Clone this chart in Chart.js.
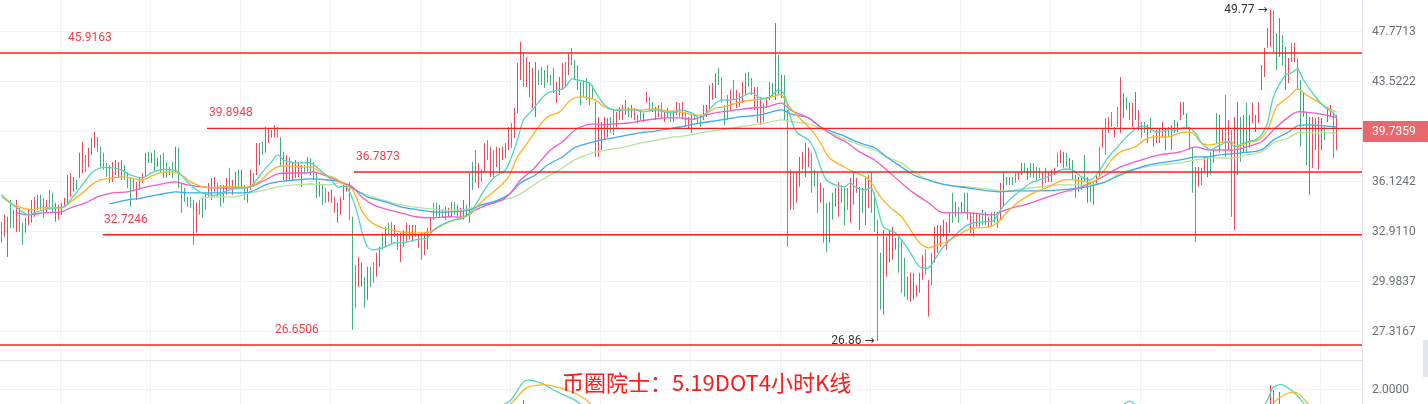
<!DOCTYPE html>
<html>
<head>
<meta charset="utf-8">
<script src="https://cdn.jsdelivr.net/npm/chart.js@4.4.0/dist/chart.umd.min.js"></script>
<style>
  body { margin: 0; background: #fff; }
  #wrap { position: relative; width: 1428px; height: 404px; overflow: hidden; }
  #main { position: absolute; left: 0; top: 0; }
  #sub { position: absolute; left: 0; top: 361px; }
  #title { position: absolute; left: 562px; top: 370px; font: 22px/22px "Noto Sans CJK SC"; color: #ff1a1a; white-space: nowrap; }
  #handle { position: absolute; left: 1423px; top: 340px; width: 5px; height: 37px; background: #e4e6eb; }
</style>
</head>
<body>
<div id="wrap">
  <canvas id="main" width="1428" height="361" style="width:1428px;height:361px"></canvas>
  <canvas id="sub" width="1428" height="43" style="width:1428px;height:43px"></canvas>
  <div id="title">币圈院士：5.19DOT4小时K线</div>
  <div id="handle"></div>
</div>
<script>
// 4h candles, one per index; r = up (red), g = down (green)
const candleHigh = [
  33.52,33.96,33.84,34.92,34.28,34.92,34.41,33.46,33.77,34.28,
  34.92,35.12,35.25,35.25,35.05,34.92,35.58,35.38,34.73,34.60,
  34.73,35.05,36.58,36.72,36.45,36.24,38.12,38.91,37.97,38.48,
  39.20,39.63,39.27,38.55,38.12,37.41,37.27,37.48,37.62,37.48,
  37.62,37.27,36.79,36.38,36.38,36.11,36.38,36.72,38.12,38.19,
  38.12,38.33,37.76,37.97,38.12,37.48,37.13,37.48,38.55,38.48,
  36.04,35.71,35.12,35.12,34.92,34.73,34.92,35.12,35.45,36.04,
  36.38,36.45,36.04,35.91,35.91,36.38,37.07,36.24,36.79,36.93,
  36.93,35.91,35.78,36.93,36.72,38.83,38.83,38.91,40.00,39.93,
  39.78,40.15,40.00,39.27,38.19,37.97,37.83,37.48,37.62,37.48,
  37.27,37.27,37.83,37.76,37.48,36.79,36.11,35.91,35.71,35.45,
  35.58,35.12,34.73,35.12,35.91,35.91,36.11,33.84,30.94,31.40,
  31.06,30.26,30.83,30.83,31.06,31.64,32.00,32.84,33.21,33.46,
  33.52,33.33,32.84,32.84,33.02,33.46,33.33,33.33,33.33,32.72,
  32.84,32.84,33.14,33.84,34.73,34.73,34.60,34.28,34.47,34.41,
  34.79,34.79,34.60,34.41,34.92,34.60,36.72,37.48,38.33,37.41,
  36.93,38.83,39.05,38.55,38.33,38.55,38.48,38.55,38.83,40.00,
  40.30,41.44,45.07,46.87,46.00,45.57,45.15,44.65,45.15,44.48,
  44.73,44.48,44.90,44.07,44.65,43.50,43.91,45.07,45.15,45.91,
  46.34,45.32,44.90,43.50,43.66,43.83,43.50,43.26,41.90,40.76,
  40.38,40.76,40.68,40.76,41.29,41.14,41.52,41.67,42.06,41.52,
  41.67,41.44,40.91,41.29,41.06,42.70,42.30,41.90,41.52,41.67,
  41.82,41.14,41.44,41.14,41.29,41.90,41.82,41.90,41.29,40.76,
  40.91,40.91,40.76,40.91,41.67,41.67,43.26,43.42,44.24,44.65,
  43.91,41.67,42.46,42.86,43.66,42.86,42.62,43.50,44.24,44.32,
  43.83,43.10,43.10,42.30,41.82,42.30,43.50,43.42,48.55,45.74,
  44.07,44.07,41.29,36.93,36.79,36.79,37.83,38.19,38.83,38.48,
  38.12,36.93,36.72,36.04,35.71,34.73,34.79,35.38,35.71,36.11,
  35.91,35.71,35.71,36.38,36.79,36.38,35.78,35.71,36.38,36.58,
  36.79,35.38,33.65,31.64,33.02,32.60,33.02,33.21,32.54,32.60,
  32.42,31.35,30.26,30.49,30.49,29.81,30.49,31.52,31.82,30.09,
  31.64,33.21,33.33,33.33,33.65,33.52,34.09,35.38,34.79,34.47,
  34.79,35.38,35.38,34.09,34.15,34.09,34.09,34.28,34.15,33.84,
  34.09,34.15,34.15,36.04,36.79,36.45,36.45,36.45,36.72,36.79,
  37.41,37.41,37.07,37.41,37.41,37.13,37.07,36.72,37.07,36.79,
  36.93,37.07,38.12,38.33,38.19,38.12,37.76,37.62,36.58,36.45,
  36.38,37.97,36.45,36.11,36.11,36.58,38.55,39.93,40.68,40.76,
  41.14,40.00,41.52,43.91,42.62,42.30,41.82,41.82,42.70,41.29,
  40.38,40.38,40.15,40.68,39.41,39.78,39.93,40.38,39.93,40.00,
  40.15,40.53,40.38,41.90,41.90,41.06,40.00,38.55,37.13,37.13,
  37.07,37.83,37.83,38.19,38.33,41.06,40.91,39.93,42.46,40.53,
  39.78,40.76,41.90,40.76,40.91,41.82,40.91,41.82,40.91,41.90,
  44.90,46.34,48.10,49.77,49.74,47.66,49.00,47.48,46.43,45.49,
  46.78,46.78,45.49,43.66,42.70,41.06,40.76,40.76,40.68,40.76,
  40.68,40.00,41.52,41.67,41.06,40.91
];
const candleLow = [
  32.24,32.60,31.40,33.14,33.14,32.90,32.90,32.12,32.84,33.33,
  33.46,33.84,34.28,34.28,33.77,34.09,34.28,34.09,33.52,33.65,
  33.96,34.47,34.60,35.12,35.45,35.58,36.38,36.72,36.79,37.13,
  37.97,38.48,38.19,37.13,36.93,36.45,36.04,36.11,36.58,36.38,
  36.24,36.24,35.71,34.47,35.58,34.92,35.58,36.04,36.45,37.41,
  37.41,36.79,37.13,36.79,36.38,36.38,36.58,36.38,36.79,35.71,
  34.09,34.79,34.47,34.41,32.12,32.84,33.96,33.77,34.28,35.12,
  34.92,35.45,35.12,34.47,34.73,35.25,35.78,35.25,35.71,35.71,
  35.71,34.92,34.73,35.58,35.78,36.58,37.27,37.97,38.12,38.83,
  39.20,39.27,39.20,37.13,36.24,36.11,36.24,36.24,36.38,36.45,
  35.78,36.72,36.79,36.58,36.24,35.05,35.12,34.60,34.73,34.79,
  34.73,34.09,33.46,33.96,34.92,35.45,33.65,27.42,28.56,29.70,
  29.70,28.56,28.99,29.70,29.92,30.26,30.83,31.82,32.00,32.72,
  32.24,32.60,31.82,31.11,32.00,32.30,32.42,32.30,32.60,31.94,
  31.23,31.52,31.82,32.84,33.65,33.84,33.84,33.77,33.65,33.84,
  33.84,33.96,33.84,33.65,33.65,33.84,33.46,35.58,36.04,35.71,
  36.11,36.79,37.62,36.45,36.45,37.13,36.72,37.62,37.76,38.33,
  38.48,39.20,41.06,43.66,43.10,43.10,42.30,41.44,40.76,43.26,
  43.26,43.02,43.42,43.26,42.62,41.82,42.46,42.86,43.10,44.07,
  44.90,43.66,42.86,41.67,42.30,42.06,41.67,42.22,37.83,37.83,
  38.33,39.05,39.20,39.56,39.41,40.00,40.53,40.53,40.91,40.76,
  40.68,40.53,40.30,40.53,40.38,41.82,41.29,41.14,40.53,40.76,
  40.68,40.38,40.68,40.38,40.38,40.91,40.76,40.68,40.00,39.93,
  39.56,40.53,40.30,40.00,40.53,40.76,41.29,42.06,42.22,43.26,
  41.82,40.15,40.53,41.29,42.06,41.44,41.52,41.82,42.46,43.10,
  42.46,41.29,40.30,40.15,40.38,41.44,42.06,42.30,42.06,42.46,
  42.22,40.53,32.00,34.28,34.28,34.73,35.78,36.93,36.45,37.13,
  35.38,35.78,34.09,34.73,32.24,31.70,32.24,33.65,34.47,33.84,
  34.73,33.33,34.28,33.46,34.60,35.38,33.02,34.09,33.33,34.41,
  34.09,32.90,26.86,28.46,28.19,30.26,31.06,31.23,31.82,30.49,
  29.37,29.15,28.99,28.88,28.99,29.15,29.37,30.09,30.37,28.09,
  29.81,31.06,31.64,32.00,32.60,31.82,32.84,33.46,33.84,33.46,
  34.09,34.09,33.65,32.84,32.60,33.21,33.21,33.33,33.33,33.21,
  33.21,33.46,33.14,33.65,34.47,35.91,35.91,35.91,36.04,36.24,
  36.58,36.72,36.24,36.45,36.38,36.24,36.38,35.71,36.04,36.11,
  36.11,36.58,37.13,37.41,37.07,37.13,36.93,36.24,35.05,35.45,
  35.58,36.11,34.73,34.79,34.60,35.91,36.45,38.48,37.97,39.56,
  40.00,39.27,40.00,39.56,40.68,41.29,40.53,40.00,40.53,39.78,
  39.20,39.56,38.83,39.56,38.55,38.83,38.83,39.27,38.33,39.27,
  38.33,39.56,39.63,40.53,40.91,39.93,38.33,35.38,32.30,35.78,
  35.91,36.72,36.45,36.58,37.41,38.83,38.12,38.91,37.83,38.33,
  33.84,33.02,36.58,37.48,38.12,38.12,38.48,40.30,39.63,40.30,
  42.86,43.91,46.34,46.43,45.91,44.48,45.57,44.90,42.86,43.42,
  45.15,45.15,42.86,38.55,40.76,37.27,35.25,37.07,38.33,36.93,
  38.33,39.05,40.38,40.76,37.76,38.33
];
const candleDir =
  'grrggrggrr' + 'rrrggrggrr' + 'rrrrrgrrgr' + 'rrgggggrrr' + 'rggggrrrrg' +
  'rgrgggrgrg' + 'gggggrgggr' + 'rrggrrgrrg' + 'rgrrgrrgrr' + 'rrgggrgrrr' +
  'rgrgggrggr' + 'rrrrrrgggr' + 'rgrggrrgrg' + 'grgrrrgrgr' + 'grrrggrggr' +
  'rgrrrgrggr' + 'grgrgrrrrr' + 'grrrgrrrrg' + 'gggggrrrgr' + 'gggggggggr' +
  'rrrggrrrrg' + 'rrrgrrggrr' + 'grrgrrgrgr' + 'rgggrrrrrg' + 'gggrgrgrrg' +
  'grgrgrrgrg' + 'rggrgrrrrr' + 'gggrggrgrr' + 'gggrrrrgrr' + 'ggggrrrrrg' +
  'ggrrrrrrgr' + 'rrrrrrrgrg' + 'rggrgrrgrr' + 'rggrrggggr' + 'rgrggggrgr' +
  'rrgrrgrggg' + 'rgrgrrgrgr' + 'grgrrgrrrr' + 'ggrgrrrrrg' + 'rgrrrggggr' +
  'grrgrgrrgr' + 'grrgrgrrrr' + 'rrrrggrgrr' + 'grggrgrrrr' + 'rgrrgr';

// moving averages, [candle index, price]
const ma5 = [[0,35.25],[3,34.73],[7,34.15],[9,33.96],[11,34.09],[14,34.28],[18,34.41],[21,34.47],[23,34.92],[27,35.91],[30,36.72],[33,37.07],[37,37.07],[40,36.93],[43,36.58],[47,36.38],[50,36.72],[53,36.93],[57,36.93],[59,36.79],[62,36.11],[66,35.45],[69,35.25],[72,35.25],[76,35.58],[80,35.71],[83,35.78],[87,36.79],[90,37.48],[92,37.97],[94,37.62],[98,37.41],[101,37.41],[103,37.41],[107,36.79],[110,36.24],[112,35.78],[115,35.78],[118,34.47],[120,33.02],[122,32.00],[124,31.82],[128,32.00],[131,32.24],[134,32.24],[138,32.42],[142,32.54],[144,33.02],[148,33.46],[151,33.65],[154,33.77],[157,34.28],[159,34.92],[161,35.58],[164,36.38],[168,36.93],[170,37.83],[172,39.05],[174,40.53],[177,41.29],[179,41.90],[182,42.62],[186,42.86],[188,43.10],[190,43.74],[192,43.66],[196,43.42],[198,42.70],[201,41.67],[204,41.29],[208,41.29],[211,41.29],[214,41.14],[218,41.29],[221,41.14],[224,41.06],[226,41.29],[230,41.06],[233,40.68],[235,41.06],[238,41.82],[240,42.06],[243,42.06],[246,42.22],[250,42.62],[253,42.22],[256,42.30],[259,42.86],[261,42.46],[263,40.76],[265,39.63],[269,39.05],[271,38.33],[273,37.13],[275,36.24],[278,35.91],[281,35.78],[283,36.04],[285,35.71],[288,35.58],[290,35.71],[292,34.47],[294,33.21],[298,32.84],[300,32.42],[303,31.64],[306,30.83],[309,30.77],[311,31.23],[314,32.00],[318,32.72],[321,33.21],[324,33.46],[328,33.52],[331,33.65],[333,34.28],[336,34.92],[340,35.58],[343,36.04],[346,36.24],[350,36.58],[353,36.93],[357,36.93],[360,36.45],[363,36.24],[365,36.58],[369,37.83],[372,38.55],[375,39.27],[379,40.00],[382,40.00],[385,39.63],[389,39.78],[392,39.78],[395,40.00],[398,39.56],[400,38.83],[403,38.33],[405,38.55],[409,38.91],[411,38.55],[414,38.83],[418,39.05],[420,39.41],[422,40.30],[424,42.30],[428,44.07],[430,44.24],[432,44.57],[434,43.66],[438,42.30],[441,41.52],[444,41.06],[445,40.68]];
const ma10 = [[0,35.12],[4,34.60],[10,34.28],[13,34.41],[17,34.41],[20,34.41],[23,34.79],[27,35.38],[30,35.91],[33,36.24],[37,36.38],[40,36.45],[43,36.38],[47,36.24],[50,36.51],[53,36.72],[57,36.79],[60,36.58],[63,36.11],[67,35.78],[70,35.71],[73,35.78],[78,35.78],[82,35.78],[86,36.11],[89,36.72],[92,37.13],[96,37.20],[99,37.13],[102,37.13],[104,37.07],[108,36.58],[111,36.38],[113,36.11],[117,35.58],[120,34.28],[123,33.52],[127,33.14],[130,33.02],[133,32.90],[137,32.84],[140,32.84],[143,32.90],[147,33.33],[151,33.65],[156,33.96],[159,34.60],[162,35.12],[166,35.78],[169,36.45],[172,37.83],[176,39.05],[179,40.00],[182,40.76],[186,41.14],[189,41.90],[191,42.22],[194,42.30],[198,42.06],[201,41.52],[204,41.29],[209,41.37],[213,41.29],[218,41.37],[222,41.21],[226,41.14],[231,40.91],[234,40.91],[238,41.44],[241,41.52],[245,41.82],[250,42.06],[254,42.14],[258,42.38],[260,42.46],[263,41.44],[266,40.68],[270,39.78],[273,38.83],[276,37.76],[281,37.13],[284,36.79],[288,36.45],[290,36.04],[293,35.12],[296,34.47],[300,33.84],[303,33.02],[306,32.24],[309,31.94],[312,32.12],[315,32.30],[319,32.72],[322,33.02],[325,33.14],[329,33.21],[332,33.46],[335,34.09],[339,34.79],[344,35.38],[349,35.78],[354,36.24],[358,36.24],[361,36.11],[364,36.11],[367,36.72],[370,37.62],[373,38.19],[378,38.55],[381,39.05],[384,39.27],[389,39.27],[393,39.56],[397,39.56],[400,38.83],[403,38.69],[406,38.83],[410,38.91],[412,38.55],[415,38.83],[419,39.05],[422,39.78],[425,41.52],[429,42.30],[432,42.94],[435,42.46],[439,41.90],[442,41.44],[445,41.14]];
const ma20 = [[5,34.09],[9,33.96],[14,34.09],[20,34.15],[23,34.41],[28,34.73],[32,35.12],[37,35.38],[42,35.45],[47,35.71],[52,35.91],[58,36.11],[62,35.91],[67,35.78],[72,35.71],[78,35.71],[83,35.78],[88,36.24],[92,36.65],[98,36.72],[102,36.72],[104,36.79],[109,36.45],[113,36.11],[117,35.78],[120,35.12],[124,34.60],[129,34.28],[133,34.09],[138,33.84],[143,33.77],[149,33.84],[154,33.84],[158,34.28],[162,34.60],[167,34.92],[170,35.45],[173,36.24],[177,36.93],[180,37.62],[183,38.33],[187,38.91],[190,39.56],[193,40.00],[197,40.23],[200,40.15],[204,40.23],[209,40.30],[213,40.45],[218,40.60],[222,40.68],[226,40.68],[231,40.60],[235,40.91],[240,41.14],[245,41.29],[250,41.44],[255,41.52],[260,41.82],[263,41.29],[269,40.68],[273,40.00],[278,39.27],[282,38.83],[286,38.19],[291,37.62],[295,36.93],[300,36.04],[304,35.38],[309,34.73],[313,34.15],[318,34.09],[322,34.09],[326,34.02],[331,33.96],[333,34.15],[338,34.47],[341,34.60],[346,34.92],[353,35.38],[360,35.78],[367,36.45],[373,37.13],[380,37.62],[386,37.97],[393,38.19],[398,38.55],[402,38.33],[406,38.33],[411,38.33],[415,38.55],[420,38.91],[424,39.78],[429,40.76],[432,41.14],[437,41.06],[441,40.91],[445,40.68]];
const ma30 = [[36,34.66],[42,34.92],[47,35.05],[52,35.25],[58,35.45],[62,35.38],[67,35.38],[72,35.38],[78,35.38],[83,35.45],[88,35.91],[92,36.11],[98,36.24],[103,36.31],[109,36.24],[113,36.11],[118,35.58],[122,35.12],[128,34.79],[133,34.47],[139,34.28],[144,34.15],[150,34.15],[156,34.28],[160,34.60],[164,34.79],[169,35.25],[173,36.04],[178,36.58],[182,37.27],[187,37.83],[191,38.48],[196,38.83],[200,39.05],[204,39.20],[209,39.41],[213,39.56],[218,39.70],[222,39.85],[226,40.00],[233,40.30],[240,40.53],[246,40.76],[253,40.91],[260,41.29],[263,40.99],[269,40.68],[273,40.00],[280,39.41],[286,38.83],[291,38.48],[295,37.83],[300,37.13],[304,36.58],[309,36.24],[315,35.91],[322,35.71],[329,35.51],[333,35.45],[338,35.51],[346,35.51],[353,35.58],[360,35.71],[367,36.04],[373,36.58],[380,37.13],[386,37.41],[393,37.62],[398,37.83],[402,37.83],[406,37.97],[413,38.12],[420,38.33],[424,39.05],[429,39.63],[432,40.08],[437,40.15],[441,40.08],[445,40.00]];
const ma60 = [[66,35.05],[72,35.12],[78,35.12],[83,35.38],[88,35.58],[92,35.78],[98,35.91],[103,35.97],[109,35.91],[113,36.04],[120,35.38],[127,34.92],[133,34.60],[140,34.41],[147,34.28],[153,34.28],[158,34.47],[164,34.79],[171,35.12],[176,35.71],[180,36.24],[186,36.93],[191,37.62],[197,38.12],[202,38.33],[208,38.55],[213,38.83],[219,39.05],[224,39.27],[226,39.27],[233,39.56],[240,39.78],[246,40.00],[253,40.23],[260,40.53],[264,40.38],[269,40.23],[274,39.78],[280,39.20],[286,38.69],[291,38.33],[295,37.83],[300,37.41],[304,36.79],[309,36.24],[315,35.91],[322,35.78],[329,35.64],[333,35.51],[338,35.58],[346,35.78],[353,35.91],[360,35.91],[367,36.04],[373,36.72],[380,37.07],[386,37.27],[393,37.41],[398,37.62],[404,37.76],[411,37.76],[415,37.97],[420,38.19],[424,38.83],[429,39.20],[432,39.56],[437,39.56],[441,39.56],[445,39.56]];

// drawn support / resistance levels
const levels = [45.9163, 39.8948, 36.7873, 32.7246, 26.6506];
const levelFrom = [null, 68.5, 117.5, 33.8, null];
const levelLabelAt = [22.2, 69.2, 118.2, 34.2, 91.2];

const priceTicks = [47.7713, 43.5222, 39.6514, 36.1242, 32.9110, 29.9837, 27.3167];
const lastPrice = 39.7359;

// lower indicator panel
const subTicks = [2.0];
const subCyan = [[160,1.2],[169,1.60],[171,1.83],[174,2.27],[176,2.33],[180,2.23],[184,2.00],[191,1.67],[193,1.53],[197,1.2],[370,1.2],[376,1.63],[382,1.2],[418,1.2],[422,1.67],[424,2.10],[427,2.17],[431,1.90],[434,1.57],[437,1.2]];
const subOrange = [[165,1.2],[170,1.57],[175,2.07],[180,2.17],[184,2.13],[191,1.90],[195,1.67],[199,1.3],[420,1.2],[425,1.67],[429,1.90],[432,1.90],[435,1.60],[438,1.2]];
const subBars = [[174,1.67],[423,2.17],[424,2.0],[426,1.93]];

const RED = '#eb4a5c', GREEN = '#44b07e';
const X_MIN = -0.5, X_MAX = 453.5;
Chart.defaults.font.family = 'Roboto, "DejaVu Sans", sans-serif';

function noPad(s) {
  s.paddingTop = 0; s.paddingBottom = 0; s.paddingLeft = 0; s.paddingRight = 0;
}

function xAxis(border) {
  return {
    type: 'linear', min: X_MIN, max: X_MAX, bounds: 'data', offset: false,
    ticks: { display: false },
    grid: { color: '#f1f2f4', drawTicks: false, offset: false },
    border: { display: border, color: '#e0e3eb' },
    afterBuildTicks: s => {
      const t = [];
      for (let v = 19.5; v < X_MAX; v += 30) t.push({ value: v });
      s.ticks = t;
    },
    afterFit: s => { s.height = 0; noPad(s); }
  };
}

function yAxis(type, min, max, ticks) {
  return {
    type, position: 'right', min, max, bounds: 'data', offset: false,
    grid: { color: '#f1f2f4', drawTicks: false },
    border: { color: '#e0e3eb' },
    ticks: { color: '#6b7079', font: { size: 12 }, padding: 10, autoSkip: false,
             callback: v => Number(v).toFixed(4) },
    afterBuildTicks: s => { s.ticks = ticks.map(v => ({ value: v })); },
    afterFit: s => { s.width = 66; noPad(s); }
  };
}

const toPts = arr => arr.map(p => ({ x: p[0], y: p[1] }));

const maDefs = [[ma5, '#4fd6bc'], [ma10, '#ffb31f'], [ma20, '#ee5ec6'], [ma30, '#39ace9'], [ma60, '#b6e29b']];

const datasets = [{
  type: 'bar',
  data: candleHigh.map((h, i) => ({ x: i, y: [candleLow[i], h] })),
  backgroundColor: candleHigh.map((h, i) => candleDir[i] === 'r' ? RED : GREEN),
  barThickness: 1, inflateAmount: 0, borderWidth: 0, order: 3
}];
maDefs.forEach(([arr, color]) => datasets.push({
  type: 'line', data: toPts(arr), borderColor: color, borderWidth: 1.3,
  pointRadius: 0, tension: 0.3, order: 2
}));
levels.forEach((v, k) => datasets.push({
  type: 'line',
  data: [{ x: levelFrom[k] ?? X_MIN, y: v }, { x: X_MAX, y: v }],
  borderColor: '#ff1c1c', borderWidth: 1.4, pointRadius: 0, order: 1
}));

const overlay = {
  id: 'overlay',
  afterDraw(chart) {
    const { ctx, scales: { x, y } } = chart;
    ctx.save();
    ctx.font = '12px Roboto, "DejaVu Sans"';
    ctx.textBaseline = 'middle';
    ctx.fillStyle = '#f0404d';
    levels.forEach((v, k) => {
      ctx.fillText(v.toFixed(4), x.getPixelForValue(levelLabelAt[k]), y.getPixelForValue(v) - 15);
    });
    // extremes
    let hi = 0, lo = 0;
    candleHigh.forEach((h, i) => { if (h > candleHigh[hi]) hi = i; });
    candleLow.forEach((l, i) => { if (l < candleLow[lo]) lo = i; });
    ctx.fillStyle = '#333';
    ctx.textAlign = 'right';
    ctx.fillText(candleHigh[hi].toFixed(2) + ' \u2192', x.getPixelForValue(hi) - 3, y.getPixelForValue(candleHigh[hi]));
    ctx.fillText(candleLow[lo].toFixed(2) + ' \u2192', x.getPixelForValue(lo) - 3, y.getPixelForValue(candleLow[lo]));
    // last price tag
    const py = Math.round(y.getPixelForValue(lastPrice));
    ctx.fillStyle = '#e8686e';
    ctx.fillRect(chart.chartArea.right + 1, py - 10, 66, 21);
    ctx.fillStyle = '#fff';
    ctx.textAlign = 'left';
    ctx.fillText(lastPrice.toFixed(4), chart.chartArea.right + 10, py + 0.5);
    ctx.restore();
  }
};

new Chart(document.getElementById('main'), {
  type: 'bar',
  data: { datasets },
  options: {
    responsive: false, animation: false, events: [],
    layout: { padding: { top: 0, left: 0, right: 0, bottom: 1 }, autoPadding: false },
    plugins: { legend: { display: false }, tooltip: { enabled: false } },
    scales: {
      x: xAxis(true),
      y: yAxis('logarithmic', 25.914, 50.677, priceTicks)
    }
  },
  plugins: [overlay]
});

new Chart(document.getElementById('sub'), {
  type: 'bar',
  data: {
    datasets: [
      { type: 'bar', data: subBars.map(p => ({ x: p[0], y: [1.0, p[1]] })), backgroundColor: RED,
        barThickness: 1, inflateAmount: 0, order: 3 },
      { type: 'line', data: toPts(subCyan), borderColor: '#4fd6bc', borderWidth: 1.3, pointRadius: 0, tension: 0.3, order: 2 },
      { type: 'line', data: toPts(subOrange), borderColor: '#ffb31f', borderWidth: 1.3, pointRadius: 0, tension: 0.3, order: 1 }
    ]
  },
  options: {
    responsive: false, animation: false, events: [],
    layout: { padding: 0, autoPadding: false },
    plugins: { legend: { display: false }, tooltip: { enabled: false } },
    scales: {
      x: xAxis(false),
      y: yAxis('linear', 1.5333, 2.9667, subTicks)
    }
  }
});
</script>
</body>
</html>
